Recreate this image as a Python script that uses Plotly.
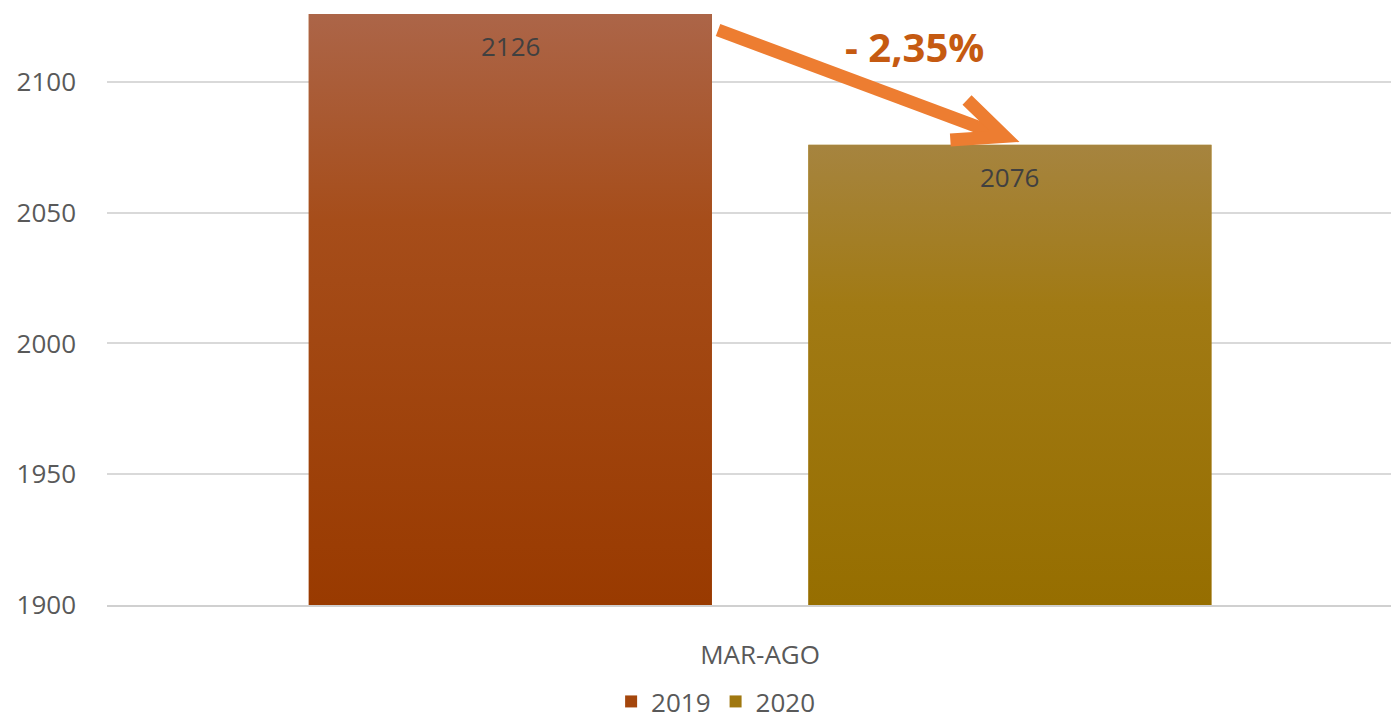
import base64
import plotly.graph_objects as go

# ---- data ----
categories = ["MAR-AGO"]
years = ["2019", "2020"]
values_2019 = [2126]
values_2020 = [2076]
change_label = "- 2,35%"
y_min = 1900
y_ticks = [1900, 1950, 2000, 2050, 2100]

# ---- style ----
FONT = "Open Sans"
GRAY = "#595959"
gradients = {
    "2019": [("0%", "#AC6548"), ("35%", "#A64D1A"), ("100%", "#993A00")],
    "2020": [("0%", "#A6843F"), ("35%", "#A17A14"), ("100%", "#966E00")],
}
solid = {"2019": "#A4460C", "2020": "#A07810"}

bargap = 0.235
bargroupgap = 0.193


def grad_uri(stops):
    st = "".join(f'<stop offset="{o}" stop-color="{c}"/>' for o, c in stops)
    svg = (
        '<svg xmlns="http://www.w3.org/2000/svg" width="100" height="100" '
        'viewBox="0 0 100 100" preserveAspectRatio="none">'
        f'<defs><linearGradient id="g" x1="0" y1="0" x2="0" y2="1">{st}</linearGradient></defs>'
        '<rect x="0" y="0" width="100" height="100" fill="url(#g)"/></svg>'
    )
    return "data:image/svg+xml;base64," + base64.b64encode(svg.encode()).decode()


fig = go.Figure()
series = [("2019", values_2019), ("2020", values_2020)]
for name, vals in series:
    fig.add_trace(go.Bar(
        x=categories, y=vals, name=name,
        marker=dict(color=solid[name], line=dict(width=0)),
        hoverinfo="skip",
    ))

# bar geometry derived from the group layout
slot = (1 - bargap) / len(series)
bar_w = slot * (1 - bargroupgap)
images = []
annotations = []
for i, (name, vals) in enumerate(series):
    center = -(1 - bargap) / 2 + slot * (i + 0.5)
    for ci, v in enumerate(vals):
        images.append(dict(
            source=grad_uri(gradients[name]), xref="x", yref="y",
            x=ci + center - bar_w / 2, y=v, sizex=bar_w, sizey=v - y_min,
            xanchor="left", yanchor="top", sizing="stretch", layer="above",
        ))
        annotations.append(dict(
            x=ci + center, y=v, xref="x", yref="y", text=str(v),
            showarrow=False, yshift=-32, yanchor="middle",
            font=dict(family=FONT, size=26, color="#404040"),
        ))

annotations.append(dict(
    x=0.6291, y=0.93, xref="paper", yref="paper", text=f"<b>{change_label}</b>",
    showarrow=False, xanchor="center", yanchor="middle",
    font=dict(family=FONT, size=40, color="#C55A11"),
))

# decorative arrow (paper coordinates)
ARROW = "#ED7D31"
shapes = [
    dict(type="path", xref="paper", yref="paper",
         path="M 0.4759 0.9583 L 0.6930 0.7850",
         line=dict(color=ARROW, width=13)),
    dict(type="path", xref="paper", yref="paper",
         path="M 0.6698 0.8417 L 0.6990 0.7810 L 0.6568 0.7750",
         line=dict(color=ARROW, width=13)),
]

fig.update_layout(
    width=1391, height=721,
    margin=dict(l=107, r=0, t=5, b=116, autoexpand=False),
    paper_bgcolor="white", plot_bgcolor="white",
    barmode="group", bargap=bargap, bargroupgap=bargroupgap,
    font=dict(family=FONT, size=26, color=GRAY),
    showlegend=True,
    legend=dict(orientation="h", x=0.474, xanchor="center",
                yref="container", y=0.027, yanchor="middle",
                font=dict(family=FONT, size=26, color=GRAY), itemwidth=30,
                traceorder="normal"),
    images=images,
    annotations=annotations,
    shapes=shapes,
    xaxis=dict(
        range=[-0.5, 0.483], showgrid=False, showline=True, linecolor="#D0D0D0", linewidth=2,
        ticks="", ticklabelstandoff=26, tickfont=dict(family=FONT, size=26, color=GRAY),
        automargin=False,
    ),
    yaxis=dict(
        range=[y_min, 2129.4], tickvals=y_ticks, showgrid=True, gridcolor="#D9D9D9", gridwidth=1.5,
        zeroline=False, showline=False, ticks="", ticklabelstandoff=30,
        tickfont=dict(family=FONT, size=26, color=GRAY), automargin=False,
    ),
)

fig.write_html(
    "out.html",
    config={"displayModeBar": False},
    post_script="document.body.style.margin='0';document.body.style.overflow='hidden';",
)
